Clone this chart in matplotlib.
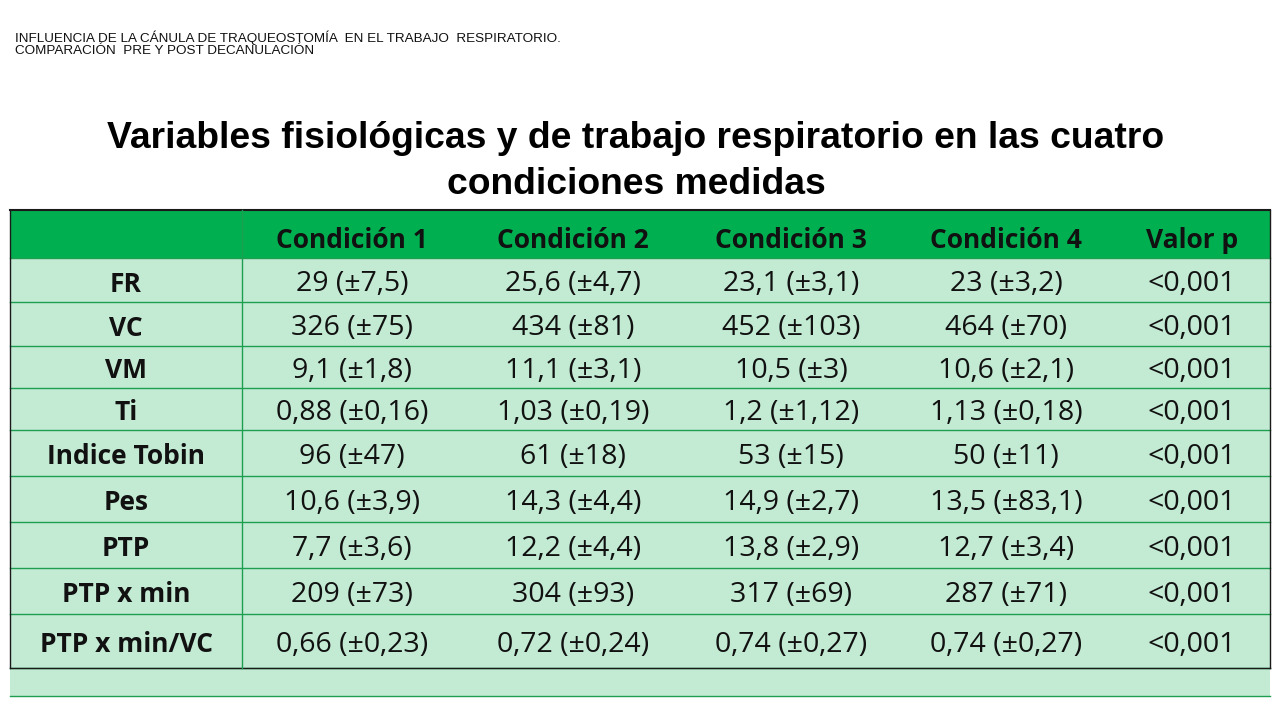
import matplotlib
matplotlib.use("Agg")
import matplotlib.pyplot as plt
from matplotlib.patches import Rectangle

header = ["", "Condición 1", "Condición 2", "Condición 3", "Condición 4", "Valor p"]
variables = ["FR", "VC", "VM", "Ti", "Indice Tobin", "Pes", "PTP", "PTP x min", "PTP x min/VC"]
cond1 = ["29 (±7,5)", "326 (±75)", "9,1 (±1,8)", "0,88 (±0,16)", "96 (±47)", "10,6 (±3,9)", "7,7 (±3,6)", "209 (±73)", "0,66 (±0,23)"]
cond2 = ["25,6 (±4,7)", "434 (±81)", "11,1 (±3,1)", "1,03 (±0,19)", "61 (±18)", "14,3 (±4,4)", "12,2 (±4,4)", "304 (±93)", "0,72 (±0,24)"]
cond3 = ["23,1 (±3,1)", "452 (±103)", "10,5 (±3)", "1,2 (±1,12)", "53 (±15)", "14,9 (±2,7)", "13,8 (±2,9)", "317 (±69)", "0,74 (±0,27)"]
cond4 = ["23 (±3,2)", "464 (±70)", "10,6 (±2,1)", "1,13 (±0,18)", "50 (±11)", "13,5 (±83,1)", "12,7 (±3,4)", "287 (±71)", "0,74 (±0,27)"]
pval = ["<0,001"] * 9

col_edges = [10, 242, 462, 684, 898, 1114, 1270]
row_edges = [210, 258, 302, 346, 388, 430, 476, 522, 568, 614, 668, 696]

fig = plt.figure(figsize=(12.8, 7.2), dpi=100)
ax = fig.add_axes([0, 0, 1, 1])
ax.set_xlim(0, 1280); ax.set_ylim(720, 0); ax.axis("off")

fig.text(15/1280, 1-38/720, "INFLUENCIA DE LA CÁNULA DE TRAQUEOSTOMÍA  EN EL TRABAJO  RESPIRATORIO.",
         fontsize=9.7, family="Liberation Sans", va="center", color="#111")
fig.text(15/1280, 1-51/720, "COMPARACIÓN  PRE Y POST DECANULACIÓN",
         fontsize=9.7, family="Liberation Sans", va="center", color="#111")
fig.text(636/1280, 1-138/720, "Variables fisiológicas y de trabajo respiratorio en las cuatro",
         fontsize=26.8, weight="bold", family="Liberation Sans", ha="center", va="center")
fig.text(636/1280, 1-184/720, "condiciones medidas",
         fontsize=26.8, weight="bold", family="Liberation Sans", ha="center", va="center")

green = "#00B050"; light = "#C3EAD3"; line = "#1E9E50"
x0, x1 = col_edges[0], col_edges[-1]
ax.add_patch(Rectangle((x0, row_edges[0]), x1-x0, row_edges[1]-row_edges[0], fc=green, ec="none"))
ax.add_patch(Rectangle((x0, row_edges[1]), x1-x0, row_edges[-1]-row_edges[1], fc=light, ec="none"))
for y in row_edges[1:]:
    ax.plot([x0, x1], [y, y], color=line, lw=1)
ax.plot([x0, x1], [row_edges[0], row_edges[0]], color="#1a1a1a", lw=1.5)
ax.plot([x0, x0], [row_edges[0], row_edges[-2]], color="#1a1a1a", lw=1)
ax.plot([x1, x1], [row_edges[0], row_edges[-2]], color="#1a1a1a", lw=1)
ax.plot([x0, x1], [row_edges[-2], row_edges[-2]], color="#1a1a1a", lw=1)
ax.plot([col_edges[1], col_edges[1]], [row_edges[0], row_edges[-2]], color=line, lw=1)

def cx(i): return (col_edges[i] + col_edges[i+1]) / 2
def cy(j): return (row_edges[j] + row_edges[j+1]) / 2

for i, h in enumerate(header):
    ax.text(cx(i), cy(0) + 6, h, ha="center", va="center", fontsize=19, weight="bold",
            family="Open Sans", color="#111")
cols = [cond1, cond2, cond3, cond4, pval]
for j, v in enumerate(variables):
    ax.text(cx(0), cy(j+1) + 4, v, ha="center", va="center", fontsize=19, weight="bold",
            family="Open Sans", color="#111")
    for k, c in enumerate(cols):
        ax.text(cx(k+1), cy(j+1) + 4, c[j], ha="center", va="center", fontsize=20.5,
                family="Open Sans", color="#111")

fig.savefig("out.png", dpi=100, facecolor="white")
